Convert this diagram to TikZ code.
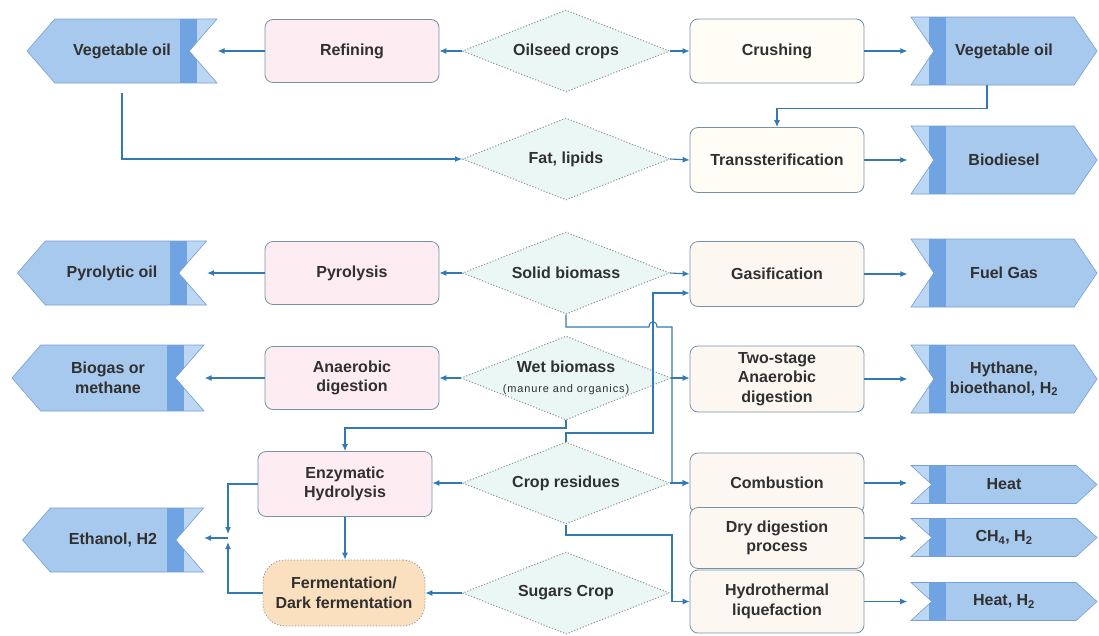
\documentclass[tikz,border=0pt]{standalone}
\usepackage{fontspec}
\setmainfont{Liberation Sans}
\newfontfamily\spacedsans[LetterSpace=8]{Liberation Sans}
\usetikzlibrary{shapes.geometric,shapes.symbols,arrows.meta,calc}
\definecolor{linkblue}{RGB}{52,122,178}
\definecolor{outfill}{RGB}{168,201,238}
\definecolor{outlight}{RGB}{188,215,244}
\definecolor{outstripe}{RGB}{112,163,226}
\definecolor{outline}{RGB}{118,160,214}
\definecolor{boxline}{RGB}{118,146,166}
\definecolor{pinkfill}{RGB}{253,236,241}
\definecolor{creamfill}{RGB}{255,253,246}
\definecolor{peachfill}{RGB}{253,247,242}
\definecolor{mintfill}{RGB}{235,247,245}
\definecolor{dotline}{RGB}{140,150,156}
\definecolor{fermfill}{RGB}{250,224,190}
\definecolor{txt}{RGB}{48,48,48}
\begin{document}
\begin{tikzpicture}[x=1pt,y=-1pt,
    every node/.style={font=\fontsize{16}{19.5}\selectfont\bfseries,text=txt,align=center},
    conn/.style={draw=linkblue,line width=1.1pt,-{Latex[length=7pt,width=6pt]}},
    proc/.style={draw=boxline,line width=0.8pt,rounded corners=8pt,minimum width=174pt,minimum height=63pt,inner sep=0pt},
    pinkbox/.style={proc,fill=pinkfill},
    creambox/.style={proc,fill=creamfill},
    peachbox/.style={proc,fill=peachfill},
    feed/.style={diamond,aspect=2.5,draw=dotline,dash pattern=on 1.2pt off 1.8pt,line width=1pt,fill=mintfill,minimum width=207pt,minimum height=82pt,inner sep=0pt},
    outl/.style={signal,signal to=west,signal from=east,signal pointer angle=98,fill=outfill,draw=outline,line width=0.6pt,
        minimum width=190pt,minimum height=64pt,inner sep=0pt,
        path picture={\fill[outlight] ([xshift=-20pt]path picture bounding box.north east) rectangle (path picture bounding box.south east);
            \fill[outstripe] ([xshift=-37pt]path picture bounding box.north east) rectangle ([xshift=-20pt]path picture bounding box.south east);}},
    outr/.style={signal,signal to=east,signal from=west,signal pointer angle=112,fill=outfill,draw=outline,line width=0.6pt,
        minimum width=186pt,minimum height=68pt,inner sep=0pt,
        path picture={\fill[outlight] (path picture bounding box.north west) rectangle ([xshift=18pt]path picture bounding box.south west);
            \fill[outstripe] ([xshift=18pt]path picture bounding box.north west) rectangle ([xshift=35pt]path picture bounding box.south west);}},
    outthin/.style={outr,signal pointer angle=85,minimum height=38pt}]
    \useasboundingbox (0,0) rectangle (1099,635);
    % feedstocks
    \node[feed] (oil) at (566,51) {Oilseed crops};
    \node[feed] (fat) at (566,159) {Fat, lipids};
    \node[feed] (solid) at (566,273) {Solid biomass};
    \node[feed] (wet) at (566,378) {Wet biomass\\{\spacedsans\mdseries\fontsize{11}{12}\selectfont(manure and organics)}};
    \node[feed] (resid) at (566,483) {Crop residues};
    \node[feed] (sugar) at (566,593) {Sugars Crop};
    % processes
    \node[pinkbox] (refin) at (352,51) {Refining};
    \node[pinkbox] (pyrol) at (352,273) {Pyrolysis};
    \node[pinkbox] (anaer) at (352,378) {Anaerobic\\digestion};
    \node[pinkbox,minimum height=65pt] (enzym) at (345,484) {Enzymatic\\Hydrolysis};
    \node[proc,fill=fermfill,draw=dotline,dash pattern=on 1.2pt off 1.8pt,rounded corners=22pt,minimum width=162pt,minimum height=66pt] (ferm) at (344,593) {Fermentation/\\Dark fermentation};
    \node[creambox,minimum height=64pt] (crush) at (777,51) {Crushing};
    \node[creambox,minimum height=65pt] (trans) at (777,160) {Transsterification};
    \node[peachbox,minimum height=65pt] (gasif) at (777,274) {Gasification};
    \node[peachbox,minimum height=66pt] (twost) at (777,379) {Two-stage\\Anaerobic\\digestion};
    \node[peachbox,minimum height=60pt] (combu) at (777,483) {Combustion};
    \node[peachbox,minimum height=61pt] (drydig) at (777,538) {Dry digestion\\process};
    \node[peachbox,minimum height=63pt] (hydro) at (777,601.5) {Hydrothermal\\liquefaction};
    % products
    \node[outl] (vegoilL) at (122,51) {Vegetable oil};
    \node[outl,minimum width=189pt] (pyroil) at (112,273) {Pyrolytic oil};
    \node[outl,minimum width=192pt,minimum height=66pt] (biogas) at (108,378) {Biogas or\\methane};
    \node[outl,minimum width=181pt] (ethanol) at (113,540) {Ethanol, H2};
    \node[outr] (vegoilR) at (1004,51) {Vegetable oil};
    \node[outr] (biodsl) at (1004,160) {Biodiesel};
    \node[outr] (fuelgas) at (1004,273) {Fuel Gas};
    \node[outr] (hythane) at (1004,379) {Hythane,\\bioethanol, H\textsubscript{2}};
    \node[outthin] (heat) at (1004,484.5) {Heat};
    \node[outthin] (chfour) at (1004,537.5) {CH\textsubscript{4}, H\textsubscript{2}};
    \node[outthin] (heathy) at (1004,601.5) {Heat, H\textsubscript{2}};
    % left side
    \draw[conn] (oil.west) -- (refin.east);
    \draw[conn] (refin.west) -- (refin.west -| vegoilL.north east);
    \draw[conn] (solid.west) -- (pyrol.east);
    \draw[conn] (pyrol.west) -- (pyrol.west -| pyroil.north east);
    \draw[conn] (wet.west) -- (anaer.east);
    \draw[conn] (anaer.west) -- (anaer.west -| biogas.north east);
    \draw[conn] (resid.west) -- (resid.west -| enzym.east);
    \draw[conn] (sugar.west) -- (sugar.west -| ferm.east);
    \draw[conn] (enzym.south) -- (enzym.south |- ferm.north);
    \coordinate (junc) at (228,538);
    \draw[conn] (enzym.west) -| ($(junc)+(0,-4)$);
    \draw[conn] (ferm.west) -| ($(junc)+(0,4)$);
    \draw[conn] (junc) -- (junc -| ethanol.north east);
    \draw[conn,shorten <=10pt] (vegoilL.south) |- (fat.west);
    % right side
    \draw[conn] (oil.east) -- (crush.west);
    \draw[conn,shorten >=3pt] (crush.east) -- (crush.east -| vegoilR.north west);
    \draw[conn] ($(vegoilR.south)+(-17,0)$) -- ++(0,23) -| (trans.north);
    \draw[conn] (fat.east) -- (trans.west);
    \draw[conn,shorten >=3pt] (trans.east) -- (trans.east -| biodsl.north west);
    \draw[conn] (solid.east) -- (gasif.west);
    \draw[conn,shorten >=3pt] (gasif.east) -- (gasif.east -| fuelgas.north west);
    \draw[conn] (wet.east) -- (wet.east -| twost.west);
    \draw[conn,shorten >=3pt] (twost.east) -- (twost.east -| hythane.north west);
    \draw[conn] (resid.east) -- (resid.east -| combu.west);
    \draw[conn,shorten >=3pt] (combu.east) -- (combu.east -| heat.north west);
    \draw[conn,shorten >=3pt] (drydig.east) -- (drydig.east -| chfour.north west);
    \draw[conn,shorten >=3pt] (hydro.east) -- (hydro.east -| heathy.north west);
    % crossing lines in the middle
    \draw[conn] (solid.south) |- (649,327) .. controls (649,320) and (657,320) .. (657,327) -- (672,327) |- (combu.west);
    \draw[conn] (resid.north) |- (653,433) |- ($(gasif.west)+(0,19)$);
    \draw[conn] (wet.south) |- (345,428) -- (enzym.north);
    \draw[conn] (resid.south) |- (672,535) |- (hydro.west);
\end{tikzpicture}
\end{document}
